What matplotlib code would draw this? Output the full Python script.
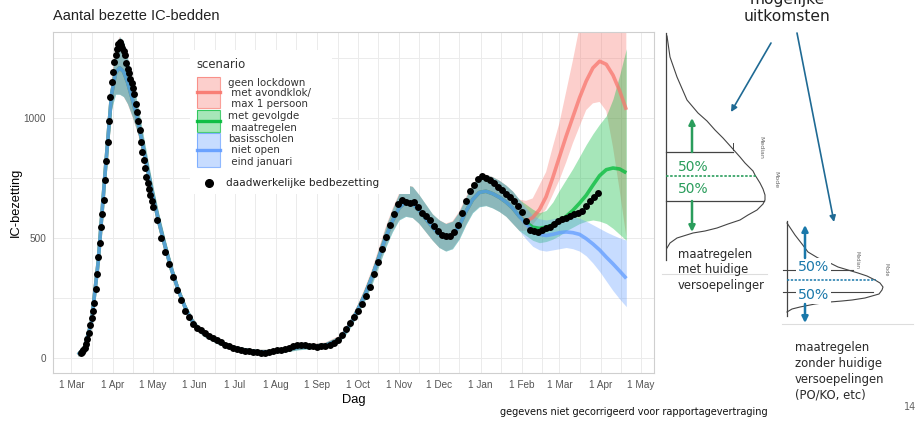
"""IC bed occupancy chart with scenario projections and a sketch of possible outcomes."""

import numpy as np
import matplotlib

matplotlib.use("Agg")
import matplotlib.pyplot as plt  # noqa: E402
import matplotlib.dates as mdates  # noqa: E402
from matplotlib.patches import Rectangle  # noqa: E402

# ---- data (days counted from 1 March 2020) ---------------------------------
START = np.datetime64("2020-03-01")

obs_day = list(range(7, 61)) + list(range(61, 395, 3))
obs_val = [
    18, 22, 30, 42, 58, 80, 105, 135, 165, 195,
    228, 285, 350, 420, 480, 545, 600, 660, 740, 820,
    900, 990, 1090, 1150, 1195, 1235, 1265, 1290, 1310, 1320,
    1305, 1295, 1280, 1265, 1230, 1205, 1190, 1165, 1145, 1125,
    1100, 1060, 1025, 990, 950, 900, 860, 825, 790, 755,
    730, 705, 680, 655,
    630, 575, 500, 440, 390, 335, 283, 240, 195, 168,
    140, 125, 115, 105, 92, 82, 72, 64, 55, 48,
    42, 36, 32, 28, 26, 24, 22, 19, 20, 22,
    26, 30, 34, 38, 42, 47, 52, 55, 52, 50,
    48, 46, 47, 50, 55, 62, 72, 95, 120, 144,
    168, 195, 225, 258, 296, 350, 400, 455, 505, 555,
    600, 640, 658, 652, 648, 650, 628, 605, 590, 575,
    550, 528, 512, 508, 510, 525, 555, 605, 655, 695,
    720, 745, 758, 750, 740, 730, 712, 700, 685, 670,
    655, 635, 610, 570, 535, 528, 526, 532, 540, 547,
    560, 572, 578, 585, 592, 598, 605, 614, 632, 655,
    670, 686,
]

# model fit shared by all scenarios
fit_day = [5, 10, 15, 20, 25, 30, 33, 36, 39, 42, 46, 50, 55, 60, 65, 70, 75, 80,
           85, 90, 95, 100, 110, 120, 130, 140, 150, 160, 170, 180, 190, 200, 205,
           210, 215, 220, 225, 230, 235, 240, 245, 250, 255, 260, 265, 270, 275,
           280, 285, 290, 295, 300, 305, 310, 315, 320, 325, 330, 335]
fit_mid = [12, 45, 150, 400, 760, 1100, 1190, 1210, 1195, 1150, 1070, 980, 840, 700,
           575, 465, 365, 280, 210, 155, 120, 95, 65, 45, 32, 25, 25, 32, 42, 48, 52,
           75, 110, 155, 210, 270, 340, 420, 500, 570, 625, 650, 645, 615, 580, 545,
           515, 500, 510, 550, 610, 660, 690, 695, 685, 670, 650, 625, 590]
fit_lo = [4, 36, 135, 380, 730, 1040, 1100, 1100, 1090, 1060, 1000, 930, 800, 665,
          545, 440, 345, 262, 195, 143, 108, 85, 55, 37, 25, 18, 18, 24, 33, 38, 42,
          62, 95, 138, 190, 245, 310, 385, 460, 525, 575, 590, 585, 560, 525, 490,
          460, 445, 455, 495, 555, 605, 630, 635, 625, 610, 590, 560, 530]
fit_hi = [22, 55, 165, 420, 790, 1160, 1290, 1340, 1320, 1250, 1150, 1040, 890, 740,
          610, 495, 390, 300, 228, 170, 132, 107, 75, 55, 40, 33, 33, 42, 52, 58, 64,
          90, 128, 175, 232, 298, 372, 458, 545, 620, 685, 720, 715, 680, 640, 600,
          575, 560, 570, 610, 670, 725, 760, 765, 755, 740, 720, 695, 660]

# projections per scenario
scen_day = [335, 340, 345, 350, 355, 360, 365, 370, 375, 380, 385, 390, 395, 400, 405, 410, 415]
red_mid = [590, 570, 585, 618, 672, 752, 839, 925, 1005, 1085, 1155, 1210, 1238, 1225, 1180, 1115, 1035]
red_lo = [530, 530, 555, 590, 620, 680, 742, 815, 895, 965, 1034, 1062, 1068, 1030, 880, 700, 505]
red_hi = [660, 655, 665, 720, 775, 880, 980, 1110, 1240, 1380, 1500, 1600, 1680, 1740, 1780, 1800, 1820]
green_mid = [590, 565, 545, 540, 545, 555, 570, 590, 615, 645, 678, 720, 760, 785, 792, 788, 772]
green_lo = [530, 510, 490, 480, 485, 495, 510, 530, 545, 560, 570, 575, 570, 560, 540, 515, 490]
green_hi = [660, 640, 620, 605, 615, 650, 700, 745, 790, 840, 890, 935, 975, 1010, 1080, 1180, 1290]
blue_mid = [590, 560, 530, 515, 510, 515, 522, 525, 522, 515, 497, 475, 450, 420, 392, 362, 331]
blue_lo = [530, 495, 465, 450, 445, 450, 455, 460, 455, 445, 425, 395, 360, 320, 280, 245, 213]
blue_hi = [660, 625, 595, 580, 575, 580, 585, 590, 590, 582, 570, 555, 540, 525, 512, 500, 491]

scenario_labels = [
    ["geen lockdown", " met avondklok/", " max 1 persoon"],
    ["met gevolgde", " maatregelen"],
    ["basisscholen", " niet open", " eind januari"],
]
obs_label = "daadwerkelijke bedbezetting"

# sketch outlines on the right (figure pixels)
big_x = [667, 670, 677, 687, 698, 707, 715, 723, 732, 740, 745, 753, 755, 760, 763,
         765, 765, 763, 757, 748, 740, 728, 717, 705, 693, 677, 670, 667]
big_y = [36, 57, 77, 100, 113, 121, 130, 138, 148, 157, 163, 171, 175, 183, 189,
         195, 200, 204, 210, 215, 220, 224, 228, 231, 233, 238, 243, 248]
small_x = [787, 795, 802, 808, 818, 828, 838, 848, 858, 867, 875, 880, 883, 882,
           879, 872, 865, 852, 842, 830, 815, 800, 792, 787]
small_y = [223, 235, 244, 252, 258, 262, 267, 270, 273, 276, 280, 283, 287, 290,
           294, 296, 298, 300, 301, 302, 304, 307, 309, 312]

RED, GREEN, BLUE = "#F8766D", "#00BA38", "#619CFF"
SK_GREEN, SK_BLUE, SK_ARROW = "#2a9d5c", "#1a78aa", "#1f6a94"
W, H = 916, 423

# ---- main panel -------------------------------------------------------------
fig = plt.figure(figsize=(W / 100, H / 100), dpi=100)
ax = fig.add_axes([53 / W, 1 - 373 / H, (654 - 53) / W, (373 - 32) / H])

x0 = mdates.date2num(START)
scenarios = [
    (RED, red_mid, red_lo, red_hi),
    (GREEN, green_mid, green_lo, green_hi),
    (BLUE, blue_mid, blue_lo, blue_hi),
]
days = np.array(fit_day + scen_day[1:]) + x0
for col, mid, lo, hi in scenarios:
    ax.fill_between(days, fit_lo + lo[1:], fit_hi + hi[1:], color=col, alpha=0.35,
                    lw=0, zorder=2)
for col, mid, lo, hi in scenarios:
    ax.plot(days, fit_mid + mid[1:], color=col, lw=2.6, alpha=0.75, zorder=3,
            solid_capstyle="butt")
ax.scatter(np.array(obs_day) + x0, obs_val, s=25, color="black", lw=0, zorder=4)

ax.set_xlim(x0 - 13.8, x0 + 435.7)
ax.set_ylim(-64, 1360)
ax.xaxis.set_major_locator(mdates.MonthLocator())
ax.xaxis.set_minor_locator(mdates.MonthLocator(bymonthday=16))
ax.xaxis.set_major_formatter(mdates.DateFormatter("1 %b"))
ax.set_yticks([0, 500, 1000])
ax.set_yticks([250, 750, 1250], minor=True)
ax.grid(True, which="both", color="#ebebeb", lw=0.7, zorder=0)
ax.set_axisbelow(True)
for sp in ax.spines.values():
    sp.set_color("#cfcfcf")
    sp.set_linewidth(0.8)
ax.tick_params(which="both", length=0, labelsize=7.2, labelcolor="#555555", pad=5)
for lab in ax.get_xticklabels() + ax.get_yticklabels():
    lab.set_family("Liberation Sans")
ax.set_xlabel("Dag", family="Liberation Sans", fontsize=9.3, labelpad=3)
ax.set_ylabel("IC-bezetting", family="Liberation Sans", fontsize=9.3, labelpad=1)
fig.text(53 / W, 1 - 16 / H, "Aantal bezette IC-bedden", family="Liberation Sans",
         fontsize=10.5, va="center", ha="left", color="#222222")

# ---- overlay in pixel coordinates: legend and sketch ---------------------------
ov = fig.add_axes([0, 0, 1, 1], zorder=5)
ov.set_xlim(0, W)
ov.set_ylim(H, 0)
ov.axis("off")

ov.add_patch(Rectangle((190, 50), 142, 120, color="white", lw=0))
ov.add_patch(Rectangle((190, 170), 220, 24, color="white", lw=0))
ov.text(196, 64, "scenario", fontsize=8.4, color="#333333", va="center", ha="left")
key_boxes = [(77, 108), (110, 132), (133, 167)]
line_ys = [[82.7, 93.3, 104], [116, 128.3], [139.3, 150, 161.7]]
for (col, *_), (top, bot), labels, ys in zip(scenarios, key_boxes, scenario_labels, line_ys):
    ov.add_patch(Rectangle((197, top), 23, bot - top, facecolor=col, alpha=0.35,
                           edgecolor="none"))
    ov.add_patch(Rectangle((197, top), 23, bot - top, facecolor="none",
                           edgecolor=col, lw=0.8, alpha=0.7))
    ov.plot([197, 220], [(top + bot) / 2] * 2, color=col, lw=2.4, alpha=0.9)
    for txt, y in zip(labels, ys):
        ov.text(228, y, txt, fontsize=7.4, color="#333333", va="center", ha="left")
ov.plot([209], [183.5], "o", color="black", ms=5.5)
ov.text(226, 183.5, obs_label, fontsize=7.6, color="#222222", va="center", ha="left")

ov.text(500, 412, "gegevens niet gecorrigeerd voor rapportagevertraging",
        fontsize=7, color="#111111", va="center", ha="left")
ov.text(904, 407, "14", fontsize=7, color="#666666", va="center", ha="left")

# sketch: big distribution
ov.text(787, 8, "mogelijke\nuitkomsten", fontsize=11.2, color="#222222",
        ha="center", va="center", linespacing=1.15)
ov.plot([666, 666], [33, 260], color="#444444", lw=0.9)
ov.plot(big_x, big_y, color="#444444", lw=0.8)
ov.plot([666, 733], [152, 152], color="#444444", lw=0.9)
ov.plot([666, 764], [201, 201], color="#444444", lw=0.9)
ov.plot([666, 756], [176.5, 176.5], color=SK_GREEN, lw=1.2, ls=(0, (1.5, 1)))
ov.text(678, 167, "50%", fontsize=10, color=SK_GREEN, va="center", ha="left")
ov.text(678, 189, "50%", fontsize=10, color=SK_GREEN, va="center", ha="left")
ov.plot([733, 733], [143, 150], color="#444444", lw=0.7)
ov.text(761, 147, "Median", fontsize=4.5, color="#666666", rotation=-90,
        va="center", ha="center")
ov.text(776, 180, "Mode", fontsize=4.5, color="#666666", rotation=-90,
        va="center", ha="center")
arrow_kw = dict(arrowstyle="-|>", lw=1.8, mutation_scale=9, shrinkA=0, shrinkB=0)
ov.annotate("", xy=(692, 118), xytext=(692, 152), arrowprops=dict(color=SK_GREEN, **arrow_kw))
ov.annotate("", xy=(692, 232), xytext=(692, 201), arrowprops=dict(color=SK_GREEN, **arrow_kw))
ov.text(678, 248, "maatregelen\nmet huidige\nversoepelinger", fontsize=8.4,
        color="#2a2a2a", va="top", ha="left", linespacing=1.25)
ov.plot([662, 767], [274, 274], color="#dddddd", lw=0.8)

# arrows from the heading
ov.annotate("", xy=(731, 112), xytext=(771, 43),
            arrowprops=dict(arrowstyle="-|>", color=SK_ARROW, lw=1.2, mutation_scale=9,
                            shrinkA=0, shrinkB=0))
ov.annotate("", xy=(834, 222), xytext=(797, 33),
            arrowprops=dict(arrowstyle="-|>", color=SK_ARROW, lw=1.2, mutation_scale=9,
                            shrinkA=0, shrinkB=0))

# sketch: small distribution
ov.plot([787, 787], [221, 316], color="#444444", lw=0.9)
ov.plot(small_x, small_y, color="#444444", lw=0.8)
ov.plot([783, 853], [270, 270], color="#444444", lw=0.8)
ov.plot([783, 873], [292, 292], color="#444444", lw=0.8)
ov.plot([787, 876], [280, 280], color=SK_BLUE, lw=1.1, ls=(0, (1.5, 1)))
white_box = dict(facecolor="white", edgecolor="none", pad=1.5)
ov.text(798, 267, "50%", fontsize=10.2, color=SK_BLUE, va="center", ha="left",
        bbox=white_box, zorder=4)
ov.text(798, 295, "50%", fontsize=10.2, color=SK_BLUE, va="center", ha="left",
        bbox=white_box, zorder=4)
ov.text(857, 260, "Median", fontsize=3.5, color="#666666", rotation=-90,
        va="center", ha="center")
ov.text(886, 270, "Mode", fontsize=3.5, color="#666666", rotation=-90,
        va="center", ha="center")
ov.annotate("", xy=(805, 225), xytext=(805, 258), arrowprops=dict(color=SK_BLUE, **arrow_kw),
            zorder=5)
ov.annotate("", xy=(805, 323), xytext=(805, 304), arrowprops=dict(color=SK_BLUE, **arrow_kw),
            zorder=5)
ov.plot([782, 913], [324, 324], color="#dddddd", lw=0.8)
ov.text(795, 341, "maatregelen\nzonder huidige\nversoepelingen\n(PO/KO, etc)", fontsize=8.4,
        color="#2a2a2a", va="top", ha="left", linespacing=1.3)

fig.savefig("out.png", dpi=100)
plt.close(fig)
